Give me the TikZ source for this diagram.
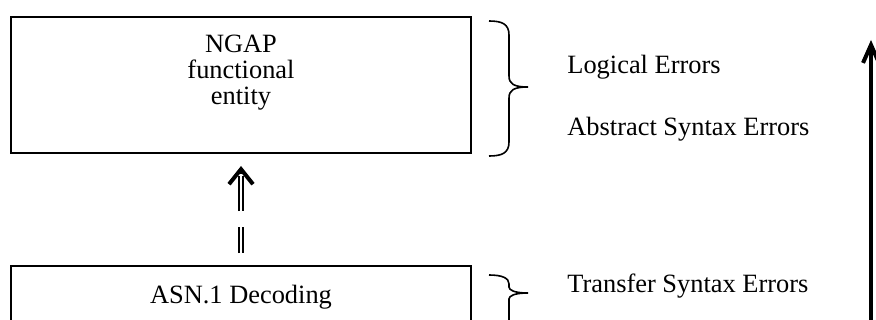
\documentclass[tikz,border=0pt]{standalone}
\usepackage{fontspec}
\setmainfont{Liberation Serif}
\usepackage{tikz}
\usetikzlibrary{
  arrows.meta,
  positioning,
  calc
}
\tikzset{
  layerbox/.style={
    draw, line width=1pt, minimum width=230pt, inner sep=0pt
  },
  boxtext/.style={font=\fontsize{13.2pt}{13pt}\selectfont, align=center, inner sep=0pt},
  errtext/.style={font=\fontsize{13.2pt}{13pt}\selectfont, anchor=base west, inner sep=0pt},
  errbrace/.style={line width=0.8pt},
  dblshaft/.style={double, double distance=1.1pt, line width=0.75pt},
  dblhead/.style={-{Straight Barb[length=7.5pt, width=12pt]}, line width=2pt},
  levelarrow/.style={-{Straight Barb[length=9pt, width=8pt]}, line width=2pt}
}
% brace: #1 top, #2 tip, #3 bottom, #4 hook size
\newcommand{\errbrace}[4]{%
  \draw[errbrace] (489,#1) .. controls (502,#1) and (509,#1+3) .. (509,#1+#4)
    -- (509,#2-#4+3) .. controls (509,#2-3) and (514,#2) .. (528,#2)
    .. controls (514,#2) and (509,#2+3) .. (509,#2+#4-3)
    -- (509,#3-#4) .. controls (509,#3-3) and (502,#3) .. (489,#3);}

\begin{document}
\begin{tikzpicture}[x=0.5pt, y=-0.5pt]
  \useasboundingbox (0,0) rectangle (876,320);
  % protocol layers
  \node[layerbox, minimum height=68pt] (ngap) at (241,85) {};
  \node[boxtext, anchor=north] (ngaptxt) at (241,34.6) {NGAP\\functional\\entity};
  \node[layerbox, minimum height=60pt] (asn) at (241,326) {};
  \node[boxtext, anchor=base] (asntxt) at (241,303) {ASN.1 Decoding};
  % decoded message passed up
  \draw[dblshaft, dash pattern=on 13pt off 8pt on 40pt]
    ([yshift=6pt]asn.north) -- ([yshift=-11pt]ngap.south);
  \draw[dblhead] ([yshift=-10pt]ngap.south) -- ([yshift=-6pt]ngap.south);
  % error classes
  \errbrace{21}{87}{156}{14}
  \errbrace{275}{293}{345}{9}
  \node[errtext] (logerr) at (567,74) {Logical Errors};
  \node[errtext] (abserr) at (567,136) {Abstract Syntax Errors};
  \node[errtext] (trferr) at (567,292) {Transfer Syntax Errors};
  % direction of decoding
  \coordinate (lvlbot) at (871,360);
  \coordinate (lvltop) at (871,40);
  \draw[levelarrow] (lvlbot) -- (lvltop);
\end{tikzpicture}
\end{document}
